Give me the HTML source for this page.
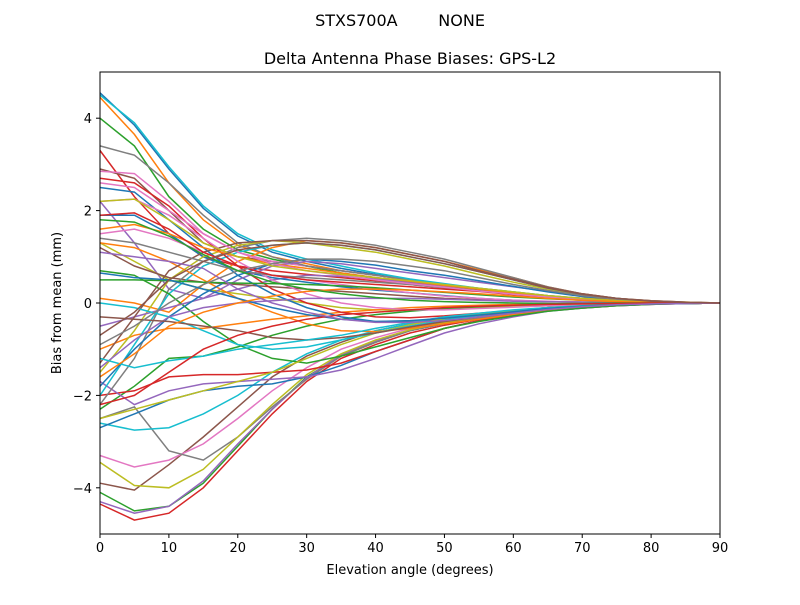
<!DOCTYPE html>
<html><head><meta charset="utf-8"><style>
body{margin:0;background:#fff}
svg text{font-family:"DejaVu Sans","Liberation Sans",sans-serif;fill:#000}
</style></head><body>
<svg id="chart" width="800" height="600" xmlns="http://www.w3.org/2000/svg">
<rect width="800" height="600" fill="#fff"/>
<text x="400" y="26" font-size="16" text-anchor="middle" style="white-space:pre" xml:space="preserve">STXS700A        NONE</text>
<text x="410" y="64" font-size="16" text-anchor="middle">Delta Antenna Phase Biases: GPS-L2</text>
<g id="lines"></g>
<rect x="100" y="72" width="620" height="462" fill="none" stroke="#000" stroke-width="1"/>
<g id="axes"></g>
<text x="410" y="574" font-size="13" text-anchor="middle">Elevation angle (degrees)</text>
<text x="0" y="0" font-size="13" text-anchor="middle" transform="translate(61,303) rotate(-90)">Bias from mean (mm)</text>
</svg>
<script>
const elevations=[0,5,10,15,20,25,30,35,40,45,50,55,60,65,70,75,80,85,90];
const xTicks=[0,10,20,30,40,50,60,70,80,90];
const yTicks=[-4,-2,0,2,4];
const s1=[4.55,3.85,2.9,2.05,1.45,1.1,0.9,0.75,0.62,0.5,0.4,0.3,0.22,0.15,0.1,0.06,0.03,0.01,0];
const s2=[4.45,3.65,2.6,1.8,1.25,1.0,0.85,0.7,0.6,0.5,0.4,0.32,0.24,0.16,0.1,0.06,0.03,0.01,0];
const s3=[4.0,3.4,2.3,1.6,1.15,0.95,0.8,0.65,0.55,0.45,0.36,0.28,0.2,0.14,0.09,0.05,0.02,0.01,0];
const s4=[3.3,2.3,1.5,1.0,0.8,0.7,0.62,0.55,0.48,0.4,0.33,0.26,0.2,0.14,0.09,0.05,0.02,0.01,0];
const s5=[2.2,1.3,0.3,0.1,0.3,0.5,0.6,0.58,0.52,0.45,0.37,0.3,0.22,0.15,0.1,0.06,0.03,0.01,0];
const s6=[2.9,2.7,2.0,1.3,1.0,0.9,0.8,0.7,0.6,0.5,0.4,0.3,0.22,0.15,0.1,0.06,0.03,0.01,0];
const s7=[2.85,2.8,2.2,1.5,1.1,0.9,0.8,0.7,0.6,0.5,0.4,0.3,0.22,0.15,0.1,0.06,0.03,0.01,0];
const s8=[3.4,3.2,2.6,1.9,1.3,1.0,0.8,0.7,0.6,0.5,0.4,0.3,0.22,0.15,0.1,0.06,0.03,0.01,0];
const s9=[1.3,0.9,0.5,0.3,0.2,0.1,0.0,-0.1,-0.15,-0.15,-0.12,-0.1,-0.08,-0.06,-0.04,-0.02,-0.01,0,0];
const s10=[4.5,3.9,2.95,2.1,1.5,1.15,0.95,0.8,0.65,0.52,0.42,0.32,0.24,0.16,0.1,0.06,0.03,0.01,0];
const s11=[1.9,1.9,1.5,1.0,0.7,0.55,0.45,0.35,0.28,0.22,0.16,0.1,0.06,0.03,0.02,0.01,0,0,0];
const s12=[0.1,0.0,-0.2,0.4,0.9,1.2,1.35,1.3,1.2,1.05,0.9,0.72,0.55,0.35,0.2,0.1,0.05,0.02,0];
const s13=[-4.1,-4.5,-4.4,-3.9,-3.1,-2.3,-1.6,-1.15,-0.85,-0.6,-0.45,-0.32,-0.22,-0.15,-0.1,-0.05,-0.02,-0.01,0];
const s14=[-4.35,-4.7,-4.55,-4.0,-3.2,-2.4,-1.7,-1.2,-0.9,-0.65,-0.48,-0.35,-0.25,-0.17,-0.11,-0.06,-0.03,-0.01,0];
const s15=[-4.3,-4.55,-4.4,-3.85,-3.05,-2.3,-1.62,-1.12,-0.82,-0.6,-0.44,-0.32,-0.22,-0.14,-0.09,-0.05,-0.02,-0.01,0];
const s16=[-3.9,-4.05,-3.5,-2.9,-2.25,-1.6,-1.15,-0.85,-0.6,-0.45,-0.33,-0.24,-0.17,-0.1,-0.06,-0.03,-0.01,0,0];
const s17=[-3.3,-3.55,-3.4,-3.05,-2.5,-1.9,-1.4,-1.0,-0.75,-0.55,-0.4,-0.3,-0.2,-0.13,-0.08,-0.04,-0.02,-0.01,0];
const s18=[-2.5,-2.25,-3.2,-3.4,-2.9,-2.25,-1.65,-1.15,-0.85,-0.6,-0.45,-0.33,-0.23,-0.15,-0.09,-0.05,-0.02,-0.01,0];
const s19=[-3.45,-3.95,-4.0,-3.6,-2.9,-2.2,-1.55,-1.1,-0.8,-0.58,-0.42,-0.3,-0.21,-0.14,-0.09,-0.05,-0.02,-0.01,0];
const s20=[-2.6,-2.75,-2.7,-2.4,-2.0,-1.5,-1.1,-0.8,-0.6,-0.45,-0.33,-0.24,-0.17,-0.1,-0.06,-0.03,-0.01,0,0];
const s21=[-2.7,-2.4,-2.1,-1.9,-1.8,-1.75,-1.6,-1.35,-1.05,-0.8,-0.55,-0.38,-0.25,-0.15,-0.1,-0.05,-0.02,-0.01,0];
const s22=[-1.0,-0.7,-0.55,-0.55,-0.45,-0.35,-0.28,-0.2,-0.15,-0.1,-0.07,-0.05,-0.03,-0.02,-0.01,0,0,0,0];
const s23=[-2.3,-1.8,-1.2,-1.15,-0.95,-0.7,-0.5,-0.35,-0.25,-0.18,-0.12,-0.08,-0.05,-0.03,-0.02,-0.01,0,0,0];
const s24=[-2.0,-1.9,-1.6,-1.55,-1.55,-1.5,-1.45,-1.3,-1.05,-0.8,-0.55,-0.38,-0.25,-0.15,-0.1,-0.05,-0.02,-0.01,0];
const s25=[-1.7,-2.2,-1.9,-1.75,-1.7,-1.65,-1.6,-1.45,-1.2,-0.92,-0.65,-0.45,-0.3,-0.18,-0.11,-0.06,-0.03,-0.01,0];
const s26=[1.2,0.8,0.55,0.45,0.4,0.35,0.3,0.25,0.2,0.15,0.1,0.07,0.05,0.03,0.02,0.01,0,0,0];
const s27=[1.5,1.6,1.4,1.1,0.8,0.6,0.5,0.4,0.3,0.22,0.15,0.1,0.06,0.04,0.02,0.01,0,0,0];
const s28=[-2.2,-1.2,0.3,0.9,1.2,1.35,1.4,1.35,1.25,1.1,0.95,0.75,0.55,0.35,0.2,0.1,0.05,0.02,0];
const s29=[-1.5,-0.6,0.5,1.0,1.25,1.35,1.3,1.2,1.1,0.95,0.8,0.62,0.45,0.3,0.18,0.09,0.04,0.01,0];
const s30=[-2.0,-0.9,0.2,0.8,1.1,1.25,1.3,1.25,1.15,1.0,0.85,0.68,0.5,0.32,0.19,0.1,0.04,0.01,0];
const s31=[2.5,2.4,1.8,1.2,0.6,0.2,-0.1,-0.3,-0.4,-0.4,-0.35,-0.28,-0.2,-0.13,-0.08,-0.04,-0.02,-0.01,0];
const s32=[1.3,1.2,0.9,0.5,0.1,-0.2,-0.45,-0.6,-0.62,-0.55,-0.45,-0.35,-0.25,-0.17,-0.1,-0.05,-0.02,-0.01,0];
const s33=[0.7,0.6,0.2,-0.4,-0.9,-1.2,-1.3,-1.15,-0.95,-0.75,-0.55,-0.4,-0.28,-0.18,-0.11,-0.06,-0.03,-0.01,0];
const s34=[2.7,2.6,2.1,1.4,0.8,0.3,0.0,-0.2,-0.3,-0.32,-0.28,-0.22,-0.16,-0.1,-0.06,-0.03,-0.01,0,0];
const s35=[-0.5,-0.3,-0.1,0.1,0.5,0.8,0.9,0.85,0.75,0.65,0.55,0.45,0.35,0.25,0.15,0.08,0.04,0.01,0];
const s36=[-1.3,-0.3,0.7,1.1,1.3,1.35,1.35,1.3,1.2,1.05,0.9,0.7,0.52,0.34,0.2,0.1,0.05,0.02,0];
const s37=[2.2,2.25,1.9,1.4,0.9,0.5,0.2,0.0,-0.1,-0.15,-0.15,-0.12,-0.09,-0.06,-0.04,-0.02,-0.01,0,0];
const s38=[1.4,1.3,1.1,0.9,0.7,0.6,0.55,0.5,0.45,0.4,0.33,0.26,0.2,0.14,0.09,0.05,0.02,0.01,0];
const s39=[-2.5,-2.3,-2.1,-1.9,-1.7,-1.5,-1.2,-0.9,-0.65,-0.47,-0.34,-0.24,-0.17,-0.1,-0.06,-0.03,-0.01,0,0];
const s40=[0.0,-0.1,-0.3,-0.6,-0.9,-1.0,-0.95,-0.8,-0.65,-0.5,-0.37,-0.27,-0.19,-0.12,-0.07,-0.04,-0.02,-0.01,0];
const s41=[-1.8,-1.0,-0.3,0.2,0.6,0.85,0.95,0.9,0.82,0.7,0.6,0.48,0.36,0.24,0.14,0.07,0.03,0.01,0];
const s42=[1.6,1.7,1.5,1.2,1.0,0.85,0.75,0.65,0.55,0.47,0.38,0.3,0.22,0.15,0.1,0.06,0.03,0.01,0];
const s43=[0.5,0.5,0.48,0.45,0.43,0.42,0.4,0.37,0.33,0.28,0.23,0.18,0.13,0.09,0.06,0.03,0.01,0,0];
const s44=[1.9,1.95,1.6,1.1,0.8,0.6,0.5,0.45,0.4,0.35,0.3,0.25,0.18,0.12,0.07,0.04,0.02,0.01,0];
const s45=[-1.4,-0.8,-0.3,-0.1,0.0,0.05,0.1,0.1,0.1,0.1,0.08,0.06,0.04,0.03,0.02,0.01,0,0,0];
const s46=[-0.3,-0.35,-0.4,-0.5,-0.6,-0.75,-0.8,-0.75,-0.65,-0.52,-0.4,-0.3,-0.2,-0.13,-0.08,-0.04,-0.02,-0.01,0];
const s47=[2.6,2.5,2.0,1.5,1.1,0.85,0.7,0.6,0.5,0.42,0.34,0.26,0.19,0.13,0.08,0.04,0.02,0.01,0];
const s48=[-0.9,-0.5,0.0,0.4,0.7,0.85,0.95,0.95,0.9,0.8,0.7,0.55,0.4,0.27,0.16,0.08,0.04,0.01,0];
const s49=[2.2,2.25,1.8,1.3,1.0,0.8,0.7,0.62,0.55,0.48,0.4,0.32,0.24,0.16,0.1,0.05,0.02,0.01,0];
const s50=[-1.2,-1.4,-1.25,-1.15,-1.0,-0.9,-0.8,-0.7,-0.55,-0.42,-0.3,-0.22,-0.15,-0.1,-0.06,-0.03,-0.01,0,0];
const s51=[0.65,0.55,0.5,0.3,0.1,-0.1,-0.25,-0.35,-0.4,-0.38,-0.33,-0.26,-0.19,-0.12,-0.07,-0.04,-0.02,-0.01,0];
const s52=[-1.6,-1.1,-0.5,-0.2,0.0,0.15,0.25,0.3,0.3,0.28,0.24,0.2,0.15,0.1,0.06,0.03,0.01,0,0];
const s53=[1.8,1.75,1.45,1.05,0.7,0.45,0.3,0.2,0.12,0.06,0.03,0.01,0,-0.01,-0.01,0,0,0,0];
const s54=[-2.2,-2.0,-1.5,-1.0,-0.7,-0.5,-0.35,-0.25,-0.2,-0.15,-0.1,-0.07,-0.05,-0.03,-0.02,-0.01,0,0,0];
const s55=[1.1,1.0,0.9,0.75,0.3,0.0,-0.2,-0.35,-0.42,-0.42,-0.38,-0.3,-0.22,-0.14,-0.08,-0.04,-0.02,-0.01,0];
const s56=[-0.7,-0.2,0.5,0.9,1.15,1.25,1.3,1.25,1.15,1.0,0.85,0.68,0.5,0.32,0.19,0.1,0.04,0.01,0];
const series=[s1,s2,s3,s4,s5,s6,s7,s8,s9,s10,s11,s12,s13,s14,s15,s16,s17,s18,s19,s20,s21,s22,s23,s24,s25,s26,s27,s28,s29,s30,s31,s32,s33,s34,s35,s36,s37,s38,s39,s40,s41,s42,s43,s44,s45,s46,s47,s48,s49,s50,s51,s52,s53,s54,s55,s56];
const colors=["#1f77b4","#ff7f0e","#2ca02c","#d62728","#9467bd","#8c564b","#e377c2","#7f7f7f","#bcbd22","#17becf"];
const NS="http://www.w3.org/2000/svg";
const X0=100,X1=720,Y0=534,Y1=72;
function xs(v){return X0+(v-0)/(90-0)*(X1-X0);}
function ys(v){return Y0-(v+5)/10*(Y0-Y1);}
const lg=document.getElementById('lines');
series.forEach((s,i)=>{
  const p=document.createElementNS(NS,'polyline');
  p.setAttribute('points',s.map((v,j)=>xs(elevations[j]).toFixed(1)+','+ys(v).toFixed(1)).join(' '));
  p.setAttribute('fill','none');
  p.setAttribute('stroke',colors[i%10]);
  p.setAttribute('stroke-width','1.5');
  
  
  lg.appendChild(p);
});
const ax=document.getElementById('axes');
xTicks.forEach(t=>{
  const l=document.createElementNS(NS,'line');
  l.setAttribute('x1',xs(t));l.setAttribute('x2',xs(t));l.setAttribute('y1',Y0);l.setAttribute('y2',Y0+4);
  l.setAttribute('stroke','#000');
  
  
  ax.appendChild(l);
  const tx=document.createElementNS(NS,'text');
  tx.setAttribute('x',xs(t));tx.setAttribute('y',Y0+18);tx.setAttribute('font-size','13');tx.setAttribute('text-anchor','middle');
  tx.textContent=t;
  
  
  ax.appendChild(tx);
});
yTicks.forEach(t=>{
  const l=document.createElementNS(NS,'line');
  l.setAttribute('x1',X0-4);l.setAttribute('x2',X0);l.setAttribute('y1',ys(t));l.setAttribute('y2',ys(t));
  l.setAttribute('stroke','#000');
  
  
  ax.appendChild(l);
  const tx=document.createElementNS(NS,'text');
  tx.setAttribute('x',X0-8);tx.setAttribute('y',ys(t)+5);tx.setAttribute('font-size','13');tx.setAttribute('text-anchor','end');
  tx.textContent=t<0?'\u2212'+Math.abs(t):String(t);
  
  
  ax.appendChild(tx);
});
</script>
</body></html>
